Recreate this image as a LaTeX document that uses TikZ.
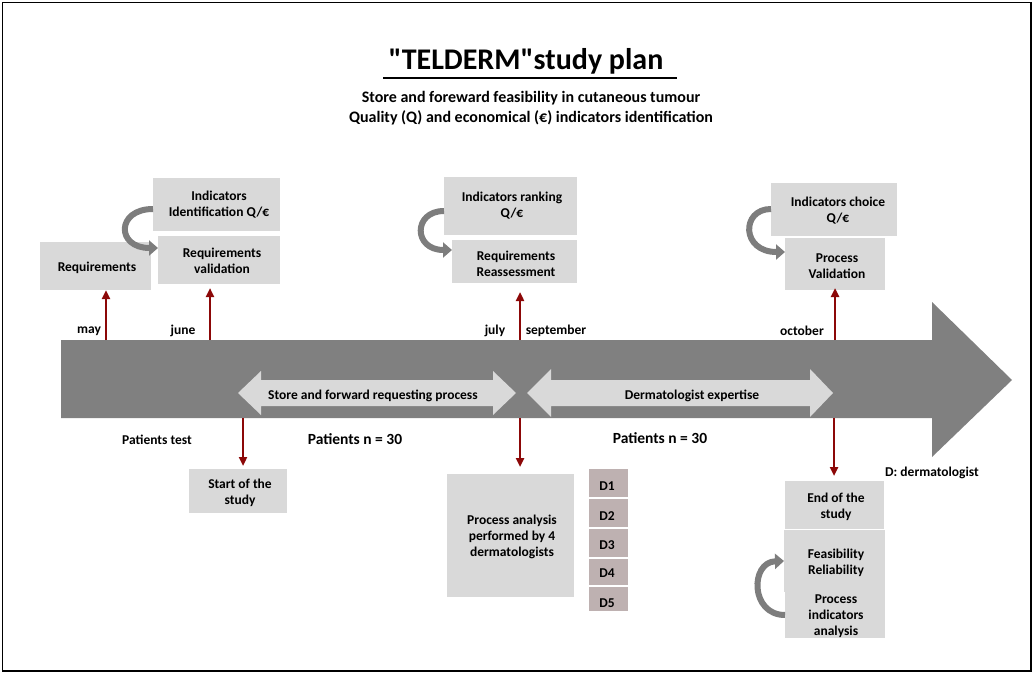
\documentclass[tikz,border=0pt]{standalone}
\usepackage{fontspec}
\setmainfont{Carlito}
\usetikzlibrary{arrows.meta}
\definecolor{bargray}{RGB}{128,128,128}
\definecolor{boxgray}{RGB}{217,217,217}
\definecolor{dgray}{RGB}{190,177,177}
\definecolor{darkred}{RGB}{140,8,8}
\definecolor{curvegray}{RGB}{125,125,125}
\tikzset{
  box/.style={fill=boxgray, draw=none},
  dbox/.style={fill=dgray, draw=none},
  btext/.style={align=center, font=\bfseries\fontsize{13.5}{16}\selectfont, inner sep=0pt},
  mtext/.style={font=\bfseries\fontsize{13.5}{15}\selectfont, inner sep=0pt},
  redup/.style={draw=darkred, line width=2.4pt, -{Triangle[width=8pt,length=9pt]}},
  curv/.style={draw=curvegray, line width=6pt, -{Triangle[width=15pt,length=9pt]}},
}
\begin{document}
\begin{tikzpicture}[x=1pt,y=-1pt]
\useasboundingbox (0,0) rectangle (1033,674);
\draw[line width=1.5pt] (2.5,2.5) rectangle (1031,671);

% title
\node[inner sep=0pt, font=\bfseries\fontsize{30}{34}\selectfont] (title) at (526,61) {\textquotedbl TELDERM\textquotedbl study plan};
\draw[line width=2pt] (383,78) -- (677,78);
\node[align=center, inner sep=0pt, font=\bfseries\fontsize{16}{20}\selectfont] (sub) at (531,108) {Store and foreward feasibility in cutaneous tumour\\Quality (Q) and economical (€) indicators identification};

% main timeline arrow
\fill[bargray] (61,340) -- (932,340) -- (932,302) -- (1012,380) -- (932,457) -- (932,418) -- (61,418) -- cycle;

% double arrows
\fill[boxgray] (238,393) -- (261,371) -- (261,380) -- (493,380) -- (493,371) -- (516,393) -- (493,415) -- (493,406) -- (261,406) -- (261,415) -- cycle;
\node[mtext] (sfr) at (373,396) {Store and forward requesting process};
\fill[boxgray] (527,393) -- (551,369) -- (551,380) -- (810,380) -- (810,369) -- (833,393) -- (810,417) -- (810,406) -- (551,406) -- (551,417) -- cycle;
\node[mtext] (dexp) at (692,396) {Dermatologist expertise};

% boxes top
\fill[box] (40,242) rectangle (151,290);
\node[btext] (req) at (97,268) {Requirements};
\fill[box] (153,178) rectangle (280,231);
\node[btext] (ind1) at (219,205) {Indicators\\Identification Q/€};
\fill[box] (158,236) rectangle (280,284);
\node[btext] (reqv) at (222,261) {Requirements\\validation};

\fill[box] (444,177) rectangle (577,235);
\node[btext] (ind2) at (512,206) {Indicators ranking\\Q/€};
\fill[box] (452,240) rectangle (577,283);
\node[btext] (reqr) at (516,264) {Requirements\\Reassessment};

\fill[box] (771,183) rectangle (897,236);
\node[btext] (ind3) at (838,211) {Indicators choice\\Q/€};
\fill[box] (785,238) rectangle (885,290);
\node[btext] (procv) at (837,266) {Process\\Validation};

% bottom boxes
\fill[box] (189,469) rectangle (287,513);
\node[btext] (start) at (240,493) {Start of the\\study};
\fill[box] (447,474) rectangle (574,597);
\node[btext] (proca) at (512,537) {Process analysis\\performed by 4\\dermatologists};
\fill[dbox] (589,469) rectangle (628,497);
\fill[dbox] (589,499) rectangle (628,527);
\fill[dbox] (589,529) rectangle (628,557);
\fill[dbox] (589,559) rectangle (628,585);
\fill[dbox] (589,587) rectangle (628,611);
\node[btext] (d1) at (607,486) {D1};
\node[btext] (d2) at (607,516) {D2};
\node[btext] (d3) at (607,545) {D3};
\node[btext] (d4) at (607,573) {D4};
\node[btext] (d5) at (607,603) {D5};

\fill[box] (785,481) rectangle (884,529);
\fill[box] (784,530) rectangle (885,592);
\fill[box] (785,592) rectangle (885,638);
\node[btext] (endst) at (836,507) {End of the\\study};
\node[btext] (feas) at (836,563) {Feasibility\\Reliability};
\node[btext] (pia) at (836,616) {Process\\indicators\\analysis};

% coordinates for red arrows
\coordinate (m1) at (106,340); \coordinate (m1t) at (106,290);
\coordinate (m2) at (210,340); \coordinate (m2t) at (210,288);
\coordinate (m3) at (520,340); \coordinate (m3t) at (520,292);
\coordinate (m4) at (835,340); \coordinate (m4t) at (835,288);
\coordinate (b1) at (243,418); \coordinate (b1t) at (243,466);
\coordinate (b2) at (520,418); \coordinate (b2t) at (520,467);
\coordinate (b3) at (834,418); \coordinate (b3t) at (834,476);
\draw[redup] (m1) -- (m1t);
\draw[redup] (m2) -- (m2t);
\draw[redup] (m3) -- (m3t);
\draw[redup] (m4) -- (m4t);
\draw[redup] (b1) -- (b1t);
\draw[redup] (b2) -- (b2t);
\draw[redup] (b3) -- (b3t);

% month labels
\node[mtext] (may) at (89,331) {may};
\node[mtext] (june) at (183,331) {june};
\node[mtext] (july) at (495,331) {july};
\node[mtext] (sep) at (556,331) {september};
\node[mtext] (oct) at (802,331) {october};

% patients labels
\node[mtext] (ptest) at (157,440) {Patients test};
\node[inner sep=0pt, font=\bfseries\fontsize{15.5}{17}\selectfont] (pn1) at (355,439) {Patients n = 30};
\node[inner sep=0pt, font=\bfseries\fontsize{15.5}{17}\selectfont] (pn2) at (660,438) {Patients n = 30};
\node[mtext] (dleg) at (932,473) {D: dermatologist};

% curved arrows
\draw[curv] (153,209) .. controls (116,209) and (116,248) .. (158,248);
\draw[curv] (444,211) .. controls (413,211) and (413,250) .. (452,250);
\draw[curv] (771,209) .. controls (741,209) and (741,252) .. (785,252);
\draw[curv] (785,615) .. controls (750,615) and (750,562) .. (784,561);
\end{tikzpicture}
\end{document}
